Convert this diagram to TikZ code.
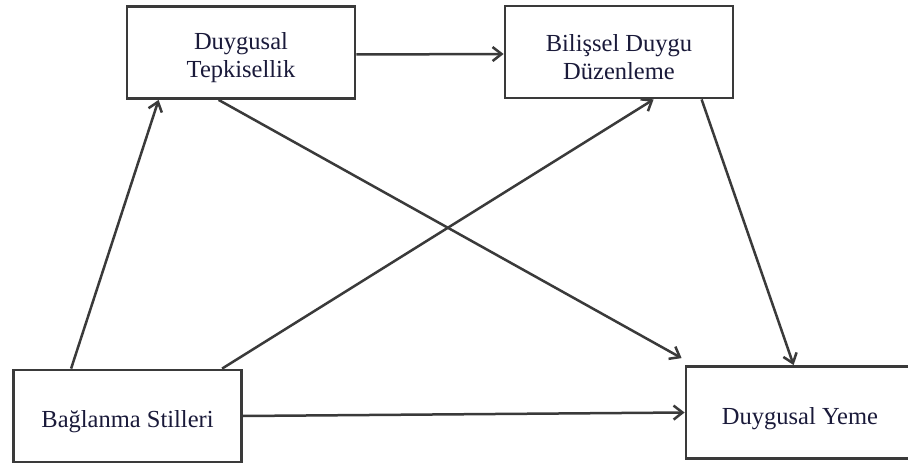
\documentclass[tikz,border=0pt]{standalone}
\usepackage{fontspec}
\setmainfont{Liberation Serif}
\usetikzlibrary{arrows.meta}
\definecolor{edge}{HTML}{3A3A3A}
\definecolor{txt}{HTML}{1A1A3A}
\tikzset{
  box/.style={draw=edge, line width=2.8pt, fill=white, rectangle,
    minimum width=228pt, minimum height=92pt, inner sep=0pt},
  boxtext/.style={align=center, text=txt, inner sep=0pt,
    font=\fontsize{24.5}{28.5}\selectfont},
  link/.style={draw=edge, line width=2.5pt,
    -{Straight Barb[length=9pt,width=14pt,line width=2.5pt]}},
}
\begin{document}
\begin{tikzpicture}[x=1pt, y=-1pt]
\useasboundingbox[fill=white] (0,0) rectangle (908,465);
% the four constructs
\node[box] (dt) at (241,52.5) {};
\node[box] (bdd) at (619,52) {};
\node[box] (bs) at (127.5,416) {};
\node[box] (dy) at (800,412.5) {};
\node[boxtext] (dt-t) at ([yshift=-5pt]dt.center) {Duygusal\\Tepkisellik};
\node[boxtext] (bdd-t) at ([yshift=-5pt]bdd.center) {Bilişsel Duygu\\Düzenleme};
\node[boxtext] (bs-t) at ([yshift=-6pt]bs.center) {Bağlanma Stilleri};
\node[boxtext] (dy-t) at ([yshift=-6pt]dy.center) {Duygusal Yeme};
% paths between them
\draw[link] ([yshift=-2pt]dt.east) -- ([yshift=-2pt]bdd.west);
\draw[link] ([xshift=59pt]bs.north west) -- ([xshift=33pt]dt.south west);
\draw[link] ([xshift=210pt]bs.north west) -- ([xshift=150pt]bdd.south west);
\draw[link] ([xshift=93pt]dt.south west) -- ([xshift=-3pt,yshift=7pt]dy.north west);
\draw[link] ([xshift=198pt]bdd.south west) -- ([xshift=109pt]dy.north west);
\draw[link] (bs.east) -- (dy.west);
\end{tikzpicture}
\end{document}
